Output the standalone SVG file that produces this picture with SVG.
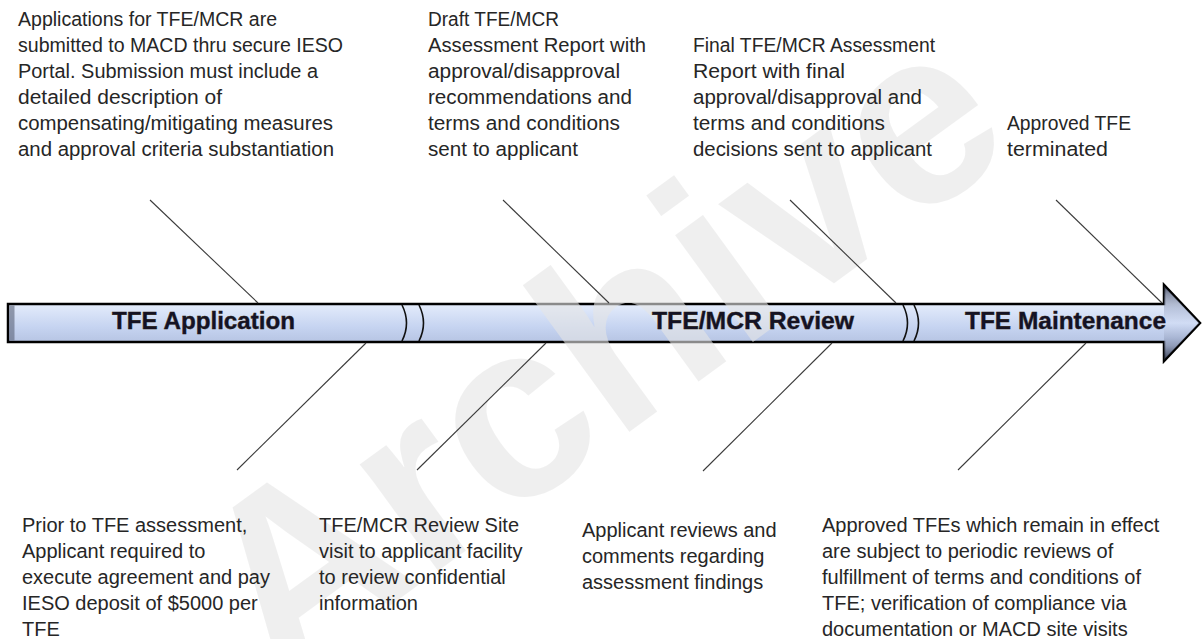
<svg xmlns="http://www.w3.org/2000/svg" width="1202" height="639" viewBox="0 0 1202 639">
<defs>
<linearGradient id="body" x1="0" y1="0" x2="0" y2="1">
<stop offset="0" stop-color="#6f7890"/>
<stop offset="0.12" stop-color="#c9d2e6"/>
<stop offset="0.25" stop-color="#e4ecfb"/>
<stop offset="0.55" stop-color="#c6d4f1"/>
<stop offset="0.8" stop-color="#b3c1e0"/>
<stop offset="1" stop-color="#4d5568"/>
</linearGradient>
<linearGradient id="head" x1="0" y1="0" x2="0" y2="1">
<stop offset="0" stop-color="#30364a"/>
<stop offset="0.3" stop-color="#9aa6c4"/>
<stop offset="0.5" stop-color="#d6e0f6"/>
<stop offset="0.7" stop-color="#9aa6c4"/>
<stop offset="1" stop-color="#30364a"/>
</linearGradient>
<style>
.t{font-family:"Liberation Sans",Arial,sans-serif;font-size:20px;fill:#262626}
.lbl{font-family:"Liberation Sans",Arial,sans-serif;font-size:23px;font-weight:bold;fill:#121228;stroke:#2a1a08;stroke-width:0.4}
.c{stroke:#3a3a3a;stroke-width:1.1;fill:none}
.brk{stroke:#111;stroke-width:1.6;fill:none}
.wm{font-family:"Liberation Sans",Arial,sans-serif;font-size:250px;font-weight:bold;fill:#e6e6e6;opacity:0.6}
</style>
</defs>
<rect width="1202" height="639" fill="#fff"/>
<g id="timeline-arrow">
<path d="M8,304 H1164 V285 L1200,323 L1164,361 V342 H8 Z" fill="url(#body)" stroke="#000" stroke-width="2.5" stroke-linejoin="miter"/>
<path d="M1164,286 L1199,323 L1164,360 Z" fill="url(#head)" opacity="0.55"/>
<rect x="9.5" y="305.5" width="5" height="35" fill="#5a6278" opacity="0.6"/>
<path class="brk" d="M402,305 Q411,323 402,341"/>
<path class="brk" d="M419,305 Q428,323 419,341"/>
<path class="brk" d="M903,305 Q912,323 903,341"/>
<path class="brk" d="M914,305 Q923,323 914,341"/>
</g>
<g id="watermark"><text class="wm" transform="translate(278,687) rotate(-36)">Archive</text></g>
<g id="phase-application"><text class="lbl" x="112" y="329" textLength="183" lengthAdjust="spacingAndGlyphs">TFE Application</text></g>
<g id="phase-review"><text class="lbl" x="652" y="329" textLength="202" lengthAdjust="spacingAndGlyphs">TFE/MCR Review</text></g>
<g id="phase-maintenance"><text class="lbl" x="965" y="329" textLength="201" lengthAdjust="spacingAndGlyphs">TFE Maintenance</text></g>
<g id="connectors">
<line class="c" x1="150" y1="200" x2="258" y2="303"/>
<line class="c" x1="503" y1="200" x2="609" y2="303"/>
<line class="c" x1="790" y1="200" x2="896" y2="303"/>
<line class="c" x1="1056" y1="200" x2="1162" y2="303"/>
<line class="c" x1="366" y1="343" x2="237" y2="470"/>
<line class="c" x1="546" y1="343" x2="417" y2="470"/>
<line class="c" x1="832" y1="343" x2="703" y2="471"/>
<line class="c" x1="1086" y1="343" x2="958" y2="470"/>
</g>
<g id="note-submission">
<text class="t" x="18" y="26" textLength="259" lengthAdjust="spacingAndGlyphs">Applications for TFE/MCR are</text>
<text class="t" x="18" y="52" textLength="325" lengthAdjust="spacingAndGlyphs">submitted to MACD thru secure IESO</text>
<text class="t" x="18" y="78" textLength="300" lengthAdjust="spacingAndGlyphs">Portal. Submission must include a</text>
<text class="t" x="18" y="104" textLength="204" lengthAdjust="spacingAndGlyphs">detailed description of</text>
<text class="t" x="18" y="130" textLength="315" lengthAdjust="spacingAndGlyphs">compensating/mitigating measures</text>
<text class="t" x="18" y="156" textLength="316" lengthAdjust="spacingAndGlyphs">and approval criteria substantiation</text>
</g>
<g id="note-draft">
<text class="t" x="428" y="26" textLength="131" lengthAdjust="spacingAndGlyphs">Draft TFE/MCR</text>
<text class="t" x="428" y="52" textLength="218" lengthAdjust="spacingAndGlyphs">Assessment Report with</text>
<text class="t" x="428" y="78" textLength="192" lengthAdjust="spacingAndGlyphs">approval/disapproval</text>
<text class="t" x="428" y="104" textLength="204" lengthAdjust="spacingAndGlyphs">recommendations and</text>
<text class="t" x="428" y="130" textLength="192" lengthAdjust="spacingAndGlyphs">terms and conditions</text>
<text class="t" x="428" y="156" textLength="150" lengthAdjust="spacingAndGlyphs">sent to applicant</text>
</g>
<g id="note-final">
<text class="t" x="693" y="52" textLength="242" lengthAdjust="spacingAndGlyphs">Final TFE/MCR Assessment</text>
<text class="t" x="693" y="78" textLength="152" lengthAdjust="spacingAndGlyphs">Report with final</text>
<text class="t" x="693" y="104" textLength="229" lengthAdjust="spacingAndGlyphs">approval/disapproval and</text>
<text class="t" x="693" y="130" textLength="192" lengthAdjust="spacingAndGlyphs">terms and conditions</text>
<text class="t" x="693" y="156" textLength="239" lengthAdjust="spacingAndGlyphs">decisions sent to applicant</text>
</g>
<g id="note-terminated">
<text class="t" x="1007" y="130" textLength="124" lengthAdjust="spacingAndGlyphs">Approved TFE</text>
<text class="t" x="1007" y="156" textLength="101" lengthAdjust="spacingAndGlyphs">terminated</text>
</g>
<g id="note-deposit">
<text class="t" x="22" y="532">Prior to TFE assessment,</text>
<text class="t" x="22" y="558">Applicant required to</text>
<text class="t" x="22" y="584">execute agreement and pay</text>
<text class="t" x="22" y="610">IESO deposit of $5000 per</text>
<text class="t" x="22" y="636">TFE</text>
</g>
<g id="note-site-visit">
<text class="t" x="319" y="532">TFE/MCR Review Site</text>
<text class="t" x="319" y="558">visit to applicant facility</text>
<text class="t" x="319" y="584">to review confidential</text>
<text class="t" x="319" y="610">information</text>
</g>
<g id="note-comments">
<text class="t" x="582" y="537">Applicant reviews and</text>
<text class="t" x="582" y="563">comments regarding</text>
<text class="t" x="582" y="589">assessment findings</text>
</g>
<g id="note-periodic">
<text class="t" x="822" y="532">Approved TFEs which remain in effect</text>
<text class="t" x="822" y="558">are subject to periodic reviews of</text>
<text class="t" x="822" y="584">fulfillment of terms and conditions of</text>
<text class="t" x="822" y="610">TFE; verification of compliance via</text>
<text class="t" x="822" y="636">documentation or  MACD site visits</text>
</g>
</svg>
